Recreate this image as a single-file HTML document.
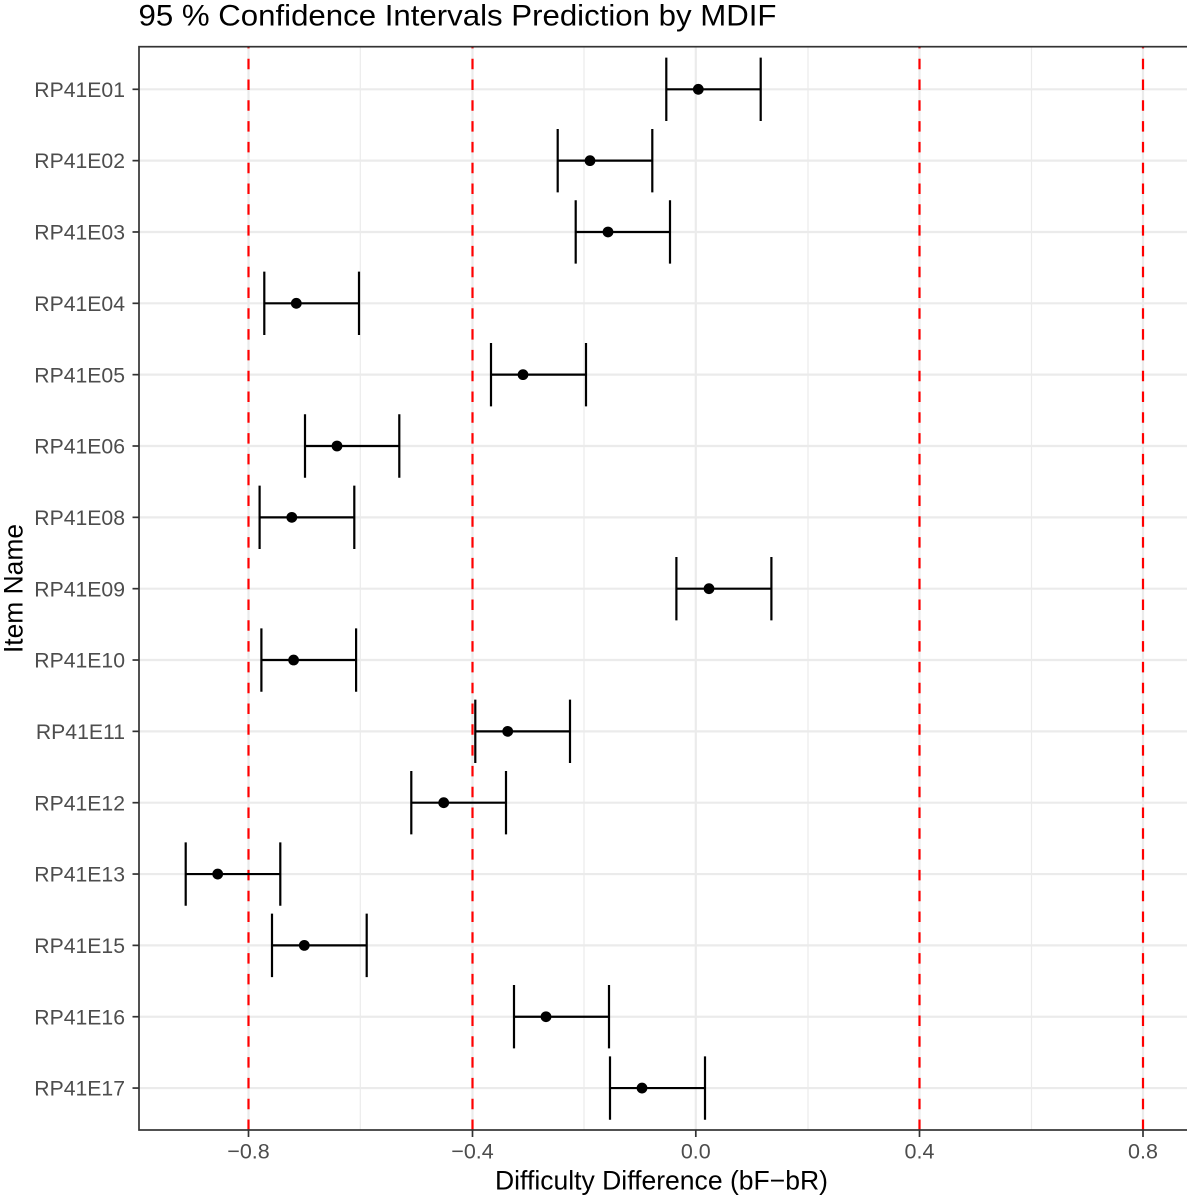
<!DOCTYPE html>
<html>
<head>
<meta charset="utf-8">
<style>
html,body{margin:0;padding:0;background:#fff;}
svg{display:block;}
text{font-family:"Liberation Sans",Arial,sans-serif;}
</style>
</head>
<body>
<svg width="1187" height="1200" viewBox="0 0 1187 1200" xmlns="http://www.w3.org/2000/svg">
<rect x="0" y="0" width="1187" height="1200" fill="#fff"/>
<!-- minor vertical gridlines -->
<g stroke="#ebebeb" stroke-width="1.2">
<line x1="360.3" y1="46.7" x2="360.3" y2="1130"/>
<line x1="584" y1="46.7" x2="584" y2="1130"/>
<line x1="808" y1="46.7" x2="808" y2="1130"/>
<line x1="1031.5" y1="46.7" x2="1031.5" y2="1130"/>
</g>
<!-- major gridlines -->
<g stroke="#ebebeb" stroke-width="2.2">
<line x1="248.5" y1="46.7" x2="248.5" y2="1130"/>
<line x1="472.5" y1="46.7" x2="472.5" y2="1130"/>
<line x1="695.8" y1="46.7" x2="695.8" y2="1130"/>
<line x1="919.5" y1="46.7" x2="919.5" y2="1130"/>
<line x1="1143" y1="46.7" x2="1143" y2="1130"/>
<line x1="139" y1="89.3" x2="1187" y2="89.3"/>
<line x1="139" y1="160.64" x2="1187" y2="160.64"/>
<line x1="139" y1="231.98" x2="1187" y2="231.98"/>
<line x1="139" y1="303.32" x2="1187" y2="303.32"/>
<line x1="139" y1="374.66" x2="1187" y2="374.66"/>
<line x1="139" y1="446.0" x2="1187" y2="446.0"/>
<line x1="139" y1="517.34" x2="1187" y2="517.34"/>
<line x1="139" y1="588.68" x2="1187" y2="588.68"/>
<line x1="139" y1="660.02" x2="1187" y2="660.02"/>
<line x1="139" y1="731.36" x2="1187" y2="731.36"/>
<line x1="139" y1="802.7" x2="1187" y2="802.7"/>
<line x1="139" y1="874.04" x2="1187" y2="874.04"/>
<line x1="139" y1="945.38" x2="1187" y2="945.38"/>
<line x1="139" y1="1016.72" x2="1187" y2="1016.72"/>
<line x1="139" y1="1088.06" x2="1187" y2="1088.06"/>
</g>
<!-- red dashed lines -->
<g stroke="#ff0000" stroke-width="2.2" stroke-dasharray="10.5 10.3">
<line x1="248.5" y1="1130" x2="248.5" y2="46.7"/>
<line x1="472.5" y1="1130" x2="472.5" y2="46.7"/>
<line x1="919.5" y1="1130" x2="919.5" y2="46.7"/>
<line x1="1143" y1="1130" x2="1143" y2="46.7"/>
</g>
<!-- error bars -->
<g stroke="#000" stroke-width="2.2" fill="none">
<path d="M666.3 89.3H760.7M666.3 57.6V121M760.7 57.6V121"/>
<path d="M557.7 160.64H652.3M557.7 128.94V192.34M652.3 128.94V192.34"/>
<path d="M575.7 231.98H670M575.7 200.28V263.68M670 200.28V263.68"/>
<path d="M264.3 303.32H359M264.3 271.62V335.02M359 271.62V335.02"/>
<path d="M491 374.66H586M491 342.96V406.36M586 342.96V406.36"/>
<path d="M305 446H399.3M305 414.3V477.7M399.3 414.3V477.7"/>
<path d="M259.6 517.34H354.3M259.6 485.64V549.04M354.3 485.64V549.04"/>
<path d="M676.4 588.68H771.4M676.4 556.98V620.38M771.4 556.98V620.38"/>
<path d="M261.4 660.02H356.1M261.4 628.32V691.72M356.1 628.32V691.72"/>
<path d="M475.3 731.36H570M475.3 699.66V763.06M570 699.66V763.06"/>
<path d="M411.3 802.7H506M411.3 771V834.4M506 771V834.4"/>
<path d="M185.7 874.04H280.3M185.7 842.34V905.74M280.3 842.34V905.74"/>
<path d="M272 945.38H366.7M272 913.68V977.08M366.7 913.68V977.08"/>
<path d="M514 1016.72H609M514 985.02V1048.42M609 985.02V1048.42"/>
<path d="M610 1088.06H705M610 1056.36V1119.76M705 1056.36V1119.76"/>
</g>
<!-- points -->
<g fill="#000">
<circle cx="698.3" cy="89.3" r="5.4"/>
<circle cx="590" cy="160.64" r="5.4"/>
<circle cx="608" cy="231.98" r="5.4"/>
<circle cx="296.3" cy="303.32" r="5.4"/>
<circle cx="523" cy="374.66" r="5.4"/>
<circle cx="337" cy="446" r="5.4"/>
<circle cx="291.8" cy="517.34" r="5.4"/>
<circle cx="709" cy="588.68" r="5.4"/>
<circle cx="293.6" cy="660.02" r="5.4"/>
<circle cx="507.7" cy="731.36" r="5.4"/>
<circle cx="443.7" cy="802.7" r="5.4"/>
<circle cx="217.7" cy="874.04" r="5.4"/>
<circle cx="304.3" cy="945.38" r="5.4"/>
<circle cx="546" cy="1016.72" r="5.4"/>
<circle cx="642" cy="1088.06" r="5.4"/>
</g>
<!-- panel border -->
<rect x="139" y="46.7" width="1060" height="1083.3" fill="none" stroke="#333" stroke-width="1.7"/>
<!-- y ticks -->
<g stroke="#333" stroke-width="1.7">
<line x1="132.5" y1="89.3" x2="139" y2="89.3"/>
<line x1="132.5" y1="160.64" x2="139" y2="160.64"/>
<line x1="132.5" y1="231.98" x2="139" y2="231.98"/>
<line x1="132.5" y1="303.32" x2="139" y2="303.32"/>
<line x1="132.5" y1="374.66" x2="139" y2="374.66"/>
<line x1="132.5" y1="446" x2="139" y2="446"/>
<line x1="132.5" y1="517.34" x2="139" y2="517.34"/>
<line x1="132.5" y1="588.68" x2="139" y2="588.68"/>
<line x1="132.5" y1="660.02" x2="139" y2="660.02"/>
<line x1="132.5" y1="731.36" x2="139" y2="731.36"/>
<line x1="132.5" y1="802.7" x2="139" y2="802.7"/>
<line x1="132.5" y1="874.04" x2="139" y2="874.04"/>
<line x1="132.5" y1="945.38" x2="139" y2="945.38"/>
<line x1="132.5" y1="1016.72" x2="139" y2="1016.72"/>
<line x1="132.5" y1="1088.06" x2="139" y2="1088.06"/>
<line x1="248.5" y1="1130" x2="248.5" y2="1137"/>
<line x1="472.5" y1="1130" x2="472.5" y2="1137"/>
<line x1="695.8" y1="1130" x2="695.8" y2="1137"/>
<line x1="919.5" y1="1130" x2="919.5" y2="1137"/>
<line x1="1143" y1="1130" x2="1143" y2="1137"/>
</g>
<!-- y labels -->
<g fill="#4d4d4d" font-size="21.2" text-anchor="end">
<text x="125" y="96.9">RP41E01</text>
<text x="125" y="168.24">RP41E02</text>
<text x="125" y="239.58">RP41E03</text>
<text x="125" y="310.92">RP41E04</text>
<text x="125" y="382.26">RP41E05</text>
<text x="125" y="453.6">RP41E06</text>
<text x="125" y="524.94">RP41E08</text>
<text x="125" y="596.28">RP41E09</text>
<text x="125" y="667.62">RP41E10</text>
<text x="125" y="738.96">RP41E11</text>
<text x="125" y="810.3">RP41E12</text>
<text x="125" y="881.64">RP41E13</text>
<text x="125" y="952.98">RP41E15</text>
<text x="125" y="1024.32">RP41E16</text>
<text x="125" y="1095.66">RP41E17</text>
</g>
<!-- x labels -->
<g fill="#4d4d4d" font-size="21.5" text-anchor="middle">
<text x="248.5" y="1158.3">−0.8</text>
<text x="472.5" y="1158.3">−0.4</text>
<text x="695.8" y="1158.3">0.0</text>
<text x="919.5" y="1158.3">0.4</text>
<text x="1143" y="1158.3">0.8</text>
</g>
<!-- axis titles -->
<text x="661.5" y="1189.3" font-size="26.4" text-anchor="middle" fill="#000" textLength="333" lengthAdjust="spacingAndGlyphs">Difficulty Difference (bF−bR)</text>
<text transform="translate(22.3,588.5) rotate(-90)" font-size="26.4" text-anchor="middle" fill="#000">Item Name</text>
<!-- title -->
<text x="138.5" y="25.3" font-size="29.5" fill="#000" textLength="638" lengthAdjust="spacingAndGlyphs">95 % Confidence Intervals Prediction by MDIF</text>
</svg>
</body>
</html>
